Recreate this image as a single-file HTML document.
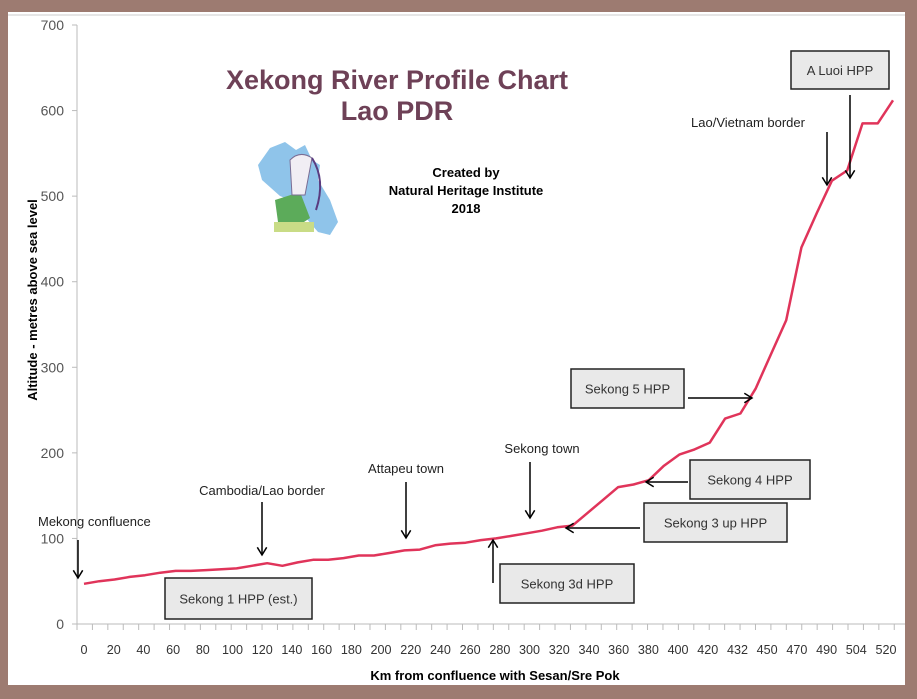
<!DOCTYPE html>
<html><head><meta charset="utf-8"><style>
html,body{margin:0;padding:0;background:#9d7b71;}
svg{display:block;}
text{font-family:"Liberation Sans",sans-serif;}
</style></head><body>
<svg id="chart" width="917" height="699" viewBox="0 0 917 699">
<rect x="0" y="0" width="917" height="699" fill="#9d7b71"/>
<rect x="8" y="12" width="897" height="673" fill="#fff"/>
<line x1="8" y1="15" x2="905" y2="15" stroke="#ccc" stroke-width="1"/>
<g id="axes"></g>
<g id="series"></g>
<text x="397" y="89" text-anchor="middle" font-size="27" font-weight="bold" fill="#6e4157">Xekong River Profile Chart</text>
<text x="397" y="120" text-anchor="middle" font-size="27" font-weight="bold" fill="#6e4157">Lao PDR</text>
<g>
<path d="M270 148 L285 142 L296 150 L305 145 L312 160 L320 165 L318 180 L330 200 L338 222 L330 235 L318 232 L306 218 L290 200 L280 196 L262 180 L258 165 Z" fill="#8fc4ea"/>
<path d="M275 200 L300 192 L310 218 L295 228 L278 222 Z" fill="#5cab5a"/>
<rect x="274" y="222" width="40" height="10" fill="#c9dc86"/>
<path d="M290 160 Q300 150 312 158 L305 195 L292 195 Z" fill="#f1eef4" stroke="#7a6d94" stroke-width="1"/>
<path d="M312 158 Q326 180 316 210" fill="none" stroke="#5a3c80" stroke-width="2"/>
</g>
<text x="466" y="177" text-anchor="middle" font-size="13" font-weight="bold" fill="#000">Created by</text>
<text x="466" y="195" text-anchor="middle" font-size="13" font-weight="bold" fill="#000">Natural Heritage Institute</text>
<text x="466" y="213" text-anchor="middle" font-size="13" font-weight="bold" fill="#000">2018</text>
<text transform="translate(37,300) rotate(-90)" text-anchor="middle" font-size="13" font-weight="bold" fill="#000">Altitude - metres above sea level</text>
<text x="495" y="680" text-anchor="middle" font-size="13" font-weight="bold" fill="#000">Km from confluence with Sesan/Sre Pok</text>
<g id="annot" font-size="13" fill="#222"></g>
</svg>
<script>
const xLabels = ["0","20","40","60","80","100","120","140","160","180","200","220","240","260","280","300","320","340","360","380","400","420","432","450","470","490","504","520"];
const yTicks = [0,100,200,300,400,500,600,700];
const profileValues = [47,50,52,55,57,60,62,62,63,64,65,68,71,68,72,75,75,77,80,80,83,86,87,92,94,95,98,100,103,106,109,113,115,130,145,160,163,168,185,198,204,212,240,246,275,315,355,440,480,518,530,585,585,612];
const NS="http://www.w3.org/2000/svg";
const x0=84, xEnd=893, y0=624, yTop=25, yMax=700;
function yScale(v){return y0-(v/yMax)*(y0-yTop);}
function xLabelPos(i){return 84+i*(886-84)/(xLabels.length-1);}
function xPoint(i){return x0+i*(xEnd-x0)/(profileValues.length-1);}
function mk(tag,attrs,parent){const e=document.createElementNS(NS,tag);for(const k in attrs)e.setAttribute(k,attrs[k]);parent.appendChild(e);return e;}
const axes=document.getElementById('axes');
const yAxis=mk('line',{x1:77,y1:yTop,x2:77,y2:y0,stroke:'#bbb','stroke-width':1},axes);


const xAxis=mk('line',{x1:77,y1:y0,x2:905,y2:y0,stroke:'#bbb','stroke-width':1},axes);


yTicks.forEach(v=>{
  const y=yScale(v);
  mk('line',{x1:72,y1:y,x2:77,y2:y,stroke:'#bbb'},axes);
  const t=mk('text',{x:64,y:y+5,'text-anchor':'end','font-size':14,fill:'#555'},axes);
  t.textContent=v;
  
  
});
for(let x=77;x<=905;x+=15.42){mk('line',{x1:x,y1:y0,x2:x,y2:y0+6,stroke:'#bbb'},axes);}
xLabels.forEach((l,i)=>{
  const t=mk('text',{x:xLabelPos(i),y:654,'text-anchor':'middle','font-size':13,fill:'#333',textLength:(l.length>2?21:l.length*7),lengthAdjust:'spacingAndGlyphs'},axes);
  t.textContent=l;
  
  
});
const pts=profileValues.map((v,i)=>xPoint(i).toFixed(1)+','+yScale(v).toFixed(1)).join(' ');
const line=mk('polyline',{points:pts,fill:'none',stroke:'#e0345a','stroke-width':2.5,'stroke-linejoin':'round'},document.getElementById('series'));


const an=document.getElementById('annot');
function arrow(x1,y1,x2,y2,name){
  const g=mk('g',{},an);
  
  
  mk('line',{x1:x1,y1:y1,x2:x2,y2:y2,stroke:'#000','stroke-width':1.5},g);
  const a=Math.atan2(y2-y1,x2-x1),L=9,w=0.55;
  mk('polyline',{points:(x2-L*Math.cos(a-w))+','+(y2-L*Math.sin(a-w))+' '+x2+','+y2+' '+(x2-L*Math.cos(a+w))+','+(y2-L*Math.sin(a+w)),fill:'none',stroke:'#000','stroke-width':1.5},g);
}
function label(x,y,s,name,anchor){
  const t=mk('text',{x:x,y:y,'text-anchor':anchor||'middle','font-size':13,fill:'#222'},an);
  t.textContent=s;
  
  
}
function box(x,y,w,h,s,name){
  const g=mk('g',{},an);
  
  
  mk('rect',{x:x,y:y,width:w,height:h,fill:'#e9e9e9',stroke:'#222','stroke-width':1.5},g);
  const t=mk('text',{x:x+w/2,y:y+h/2+5,'text-anchor':'middle','font-size':13,fill:'#333'},g);
  t.textContent=s;
}
label(38,526,'Mekong confluence','mekong-confluence-label','start');
arrow(78,540,78,578,'mekong-confluence-arrow');
label(262,495,'Cambodia/Lao border','cambodia-lao-border-label');
arrow(262,502,262,555,'cambodia-lao-border-arrow');
label(406,473,'Attapeu town','attapeu-town-label');
arrow(406,482,406,538,'attapeu-town-arrow');
label(542,453,'Sekong town','sekong-town-label');
arrow(530,462,530,518,'sekong-town-arrow');
label(748,127,'Lao/Vietnam border','lao-vietnam-border-label');
arrow(827,132,827,185,'lao-vietnam-border-arrow');
arrow(850,95,850,178,'a-luoi-arrow');
box(165,578,147,41,'Sekong 1 HPP (est.)','sekong-1-hpp-box');
box(500,564,134,39,'Sekong 3d HPP','sekong-3d-hpp-box');
arrow(493,583,493,540,'sekong-3d-arrow');
box(644,503,143,39,'Sekong 3 up HPP','sekong-3up-hpp-box');
arrow(640,528,566,528,'sekong-3up-arrow');
box(690,460,120,39,'Sekong 4 HPP','sekong-4-hpp-box');
arrow(688,482,646,482,'sekong-4-arrow');
box(571,369,113,39,'Sekong 5 HPP','sekong-5-hpp-box');
arrow(688,398,752,398,'sekong-5-arrow');
box(791,51,98,38,'A Luoi HPP','a-luoi-hpp-box');
</script>
</body></html>
